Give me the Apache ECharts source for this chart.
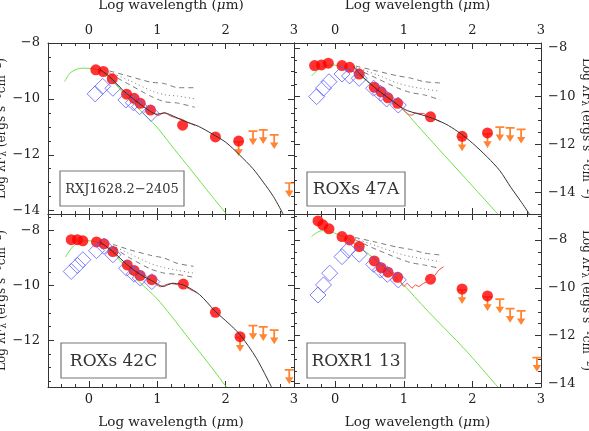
<!DOCTYPE html>
<html>
<head>
<meta charset="utf-8">
<script src="https://cdn.jsdelivr.net/npm/echarts@6.0.0/dist/echarts.min.js"></script>
<style>
html, body { margin: 0; padding: 0; background: #fff; }
#sed { width: 589px; height: 431px; }
</style>
</head>
<body>
<div id="sed"></div>
<script>
// --- ticks ---
const xTicks = [0, 1, 2, 3];
const xMinor = [-0.6, -0.4, -0.2, 0.2, 0.4, 0.6, 0.8, 1.2, 1.4, 1.6, 1.8, 2.2, 2.4, 2.6, 2.8];
const yTicksTop = [-14, -12, -10, -8];
const yTicksBL = [-12, -10, -8];
const yTicksBR = [-14, -12, -10, -8];

// --- RXJ1628.2-2405 (arriba izq) ---
const tlCircles = [[0.1, -8.96], [0.21, -9.02], [0.34, -9.28], [0.55, -9.83], [0.66, -9.98], [0.75, -10.16], [0.9, -10.4], [1.37, -10.94], [1.85, -11.36], [2.19, -11.51]];
const tlCircleLimits = [[2.19, -11.51]];
const tlLimits = [[2.40, -11.12], [2.55, -11.08], [2.71, -11.26], [2.93, -12.98]];
const tlDiamonds = [[0.09, -9.82], [0.2, -9.55], [0.35, -9.62], [0.54, -10.04], [0.65, -10.14], [0.74, -10.28], [0.91, -10.52]];
const tlPhot = [[-0.355, -9.38], [-0.28, -9.08], [-0.18, -8.94], [-0.086, -8.9], [0.05, -8.92], [0.16, -8.98], [0.3, -9.25], [0.55, -9.92], [0.75, -10.41], [0.99, -11.0], [1.2, -11.65], [1.43, -12.35], [1.7, -13.18], [2.01, -14.12]];
const tlModel = [[0.16, -8.95], [0.3, -9.2], [0.5, -9.7], [0.7, -10.1], [0.9, -10.45], [1.0, -10.55], [1.1, -10.5], [1.2, -10.58], [1.4, -10.8], [1.6, -10.98], [1.8, -11.25], [2.0, -11.55], [2.2, -12.0], [2.4, -12.5], [2.55, -12.98], [2.7, -13.5], [2.84, -14.12]];
const tlSpec = [[0.88, -10.42], [0.93, -10.47], [0.97, -10.55], [1.0, -10.6], [1.03, -10.58], [1.07, -10.52], [1.11, -10.5], [1.15, -10.55], [1.2, -10.62], [1.25, -10.66], [1.3, -10.7], [1.35, -10.72], [1.4, -10.78], [1.45, -10.85], [1.5, -10.9], [1.55, -10.95]];
const tlMedHigh = [[0.3, -9.0], [0.6, -9.2], [0.9, -9.4], [1.1, -9.45], [1.3, -9.6], [1.55, -9.6]];
const tlMedMid = [[0.3, -9.05], [0.6, -9.35], [0.9, -9.7], [1.1, -9.85], [1.3, -9.9], [1.55, -10.0]];
const tlMedLow = [[0.3, -9.1], [0.6, -9.5], [0.9, -9.9], [1.1, -10.1], [1.3, -10.15], [1.55, -10.3]];

// --- ROXs 47A (arriba der) ---
const trCircles = [[-0.3, -8.73], [-0.2, -8.7], [-0.1, -8.63], [0.1, -8.73], [0.21, -8.8], [0.35, -9.08], [0.57, -9.63], [0.67, -9.82], [0.77, -10.07], [0.91, -10.3], [1.39, -10.86], [1.85, -11.67], [2.22, -11.53]];
const trCircleLimits = [[1.85, -11.67], [2.22, -11.53]];
const trLimits = [[2.40, -11.25], [2.55, -11.28], [2.71, -11.35]];
const trDiamonds = [[-0.27, -10.02], [-0.17, -9.67], [-0.09, -9.4], [0.1, -9.08], [0.21, -9.16], [0.35, -9.26], [0.56, -9.67], [0.66, -9.88], [0.75, -10.12], [0.92, -10.37]];
const trPhot = [[-0.344, -9.16], [-0.25, -8.9], [-0.15, -8.74], [-0.05, -8.7], [0.05, -8.74], [0.15, -8.84], [0.31, -9.05], [0.5, -9.45], [0.7, -9.9], [0.95, -10.44], [1.2, -11.22], [1.5, -12.17], [1.9, -13.42], [2.37, -14.9]];
const trModel = [[0.27, -8.77], [0.35, -9.05], [0.57, -9.63], [0.77, -10.07], [0.95, -10.44], [1.05, -10.6], [1.19, -10.72], [1.35, -10.85], [1.49, -11.0], [1.65, -11.22], [1.83, -11.56], [2.0, -11.95], [2.22, -12.54], [2.4, -13.1], [2.56, -13.79], [2.7, -14.35], [2.83, -14.9]];
const trSpec = [[0.92, -10.35], [0.97, -10.5], [1.0, -10.6], [1.05, -10.72], [1.08, -10.78], [1.12, -10.79], [1.17, -10.7], [1.22, -10.72], [1.29, -10.72], [1.35, -10.82], [1.42, -10.9], [1.48, -11.0], [1.54, -11.07]];
const trMedHigh = [[0.3, -8.75], [0.6, -8.95], [0.9, -9.15], [1.1, -9.25], [1.3, -9.4], [1.53, -9.45]];
const trMedMid = [[0.3, -8.8], [0.6, -9.1], [0.9, -9.45], [1.1, -9.6], [1.3, -9.7], [1.53, -9.8]];
const trMedLow = [[0.3, -8.85], [0.6, -9.25], [0.9, -9.65], [1.1, -9.85], [1.3, -9.95], [1.53, -10.15]];

// --- ROXs 42C (abajo izq) ---
const blCircles = [[-0.26, -8.33], [-0.17, -8.33], [-0.09, -8.37], [0.11, -8.41], [0.22, -8.48], [0.35, -8.76], [0.56, -9.25], [0.66, -9.45], [0.75, -9.64], [0.92, -9.79], [1.38, -9.95], [1.85, -10.98], [2.21, -11.87]];
const blCircleLimits = [[2.21, -11.87]];
const blLimits = [[2.40, -11.44], [2.55, -11.48], [2.71, -11.6], [2.93, -13.05]];
const blDiamonds = [[-0.26, -9.49], [-0.17, -9.27], [-0.09, -9.06], [0.11, -8.73], [0.22, -8.57], [0.35, -8.88], [0.55, -9.37], [0.66, -9.59], [0.75, -9.73], [0.92, -9.86]];
const blPhot = [[-0.344, -8.96], [-0.25, -8.62], [-0.135, -8.4], [0.0, -8.37], [0.158, -8.45], [0.35, -8.8], [0.55, -9.37], [0.75, -9.9], [0.99, -10.47], [1.2, -11.1], [1.48, -12.0], [1.75, -12.85], [2.01, -13.71]];
const blModel = [[0.16, -8.41], [0.35, -8.76], [0.56, -9.25], [0.75, -9.6], [0.92, -9.83], [1.0, -9.95], [1.09, -10.04], [1.15, -9.98], [1.23, -9.92], [1.33, -9.95], [1.43, -10.04], [1.62, -10.34], [1.85, -10.95], [2.05, -11.4], [2.21, -11.8], [2.45, -12.66], [2.67, -13.71]];
const blSpec = [[0.9, -9.82], [0.95, -9.9], [1.0, -10.0], [1.05, -10.05], [1.1, -10.0], [1.15, -9.95], [1.2, -9.93], [1.25, -9.95], [1.3, -9.98], [1.35, -10.0], [1.4, -10.05], [1.45, -10.1], [1.5, -10.18], [1.55, -10.22], [1.58, -10.28]];
const blMedHigh = [[0.35, -8.5], [0.6, -8.7], [0.9, -8.9], [1.1, -9.0], [1.3, -9.2], [1.53, -9.3]];
const blMedMid = [[0.35, -8.55], [0.6, -8.85], [0.9, -9.2], [1.1, -9.35], [1.3, -9.45], [1.53, -9.55]];
const blMedLow = [[0.35, -8.6], [0.6, -9.0], [0.9, -9.4], [1.1, -9.55], [1.3, -9.6], [1.53, -9.7]];

// --- ROXR1 13 (abajo der) ---
const brCircles = [[-0.25, -7.21], [-0.18, -7.37], [-0.09, -7.54], [0.1, -7.86], [0.21, -8.0], [0.35, -8.28], [0.57, -8.88], [0.67, -9.16], [0.77, -9.35], [0.91, -9.56], [1.39, -9.64], [1.85, -10.05], [2.22, -10.34]];
const brCircleLimits = [[1.85, -10.05], [2.22, -10.34]];
const brLimits = [[2.40, -10.44], [2.55, -10.83], [2.71, -10.93], [2.94, -12.88]];
const brDiamonds = [[-0.25, -10.3], [-0.17, -9.88], [-0.08, -9.39], [0.1, -8.7], [0.19, -8.42], [0.35, -8.6], [0.56, -9.02], [0.66, -9.26], [0.76, -9.44], [0.92, -9.67]];
const brPhot = [[-0.344, -7.86], [-0.27, -7.7], [-0.2, -7.62], [-0.1, -7.64], [0.07, -7.8], [0.2, -7.98], [0.31, -8.21], [0.5, -8.62], [0.7, -9.1], [0.95, -9.74], [1.36, -11.0], [1.9, -12.6], [2.37, -14.14]];
const brSpec = [[0.92, -9.6], [0.96, -9.8], [1.0, -9.95], [1.05, -9.81], [1.12, -10.02], [1.17, -9.88], [1.22, -9.95], [1.29, -9.81], [1.36, -9.74], [1.44, -9.53], [1.51, -9.26], [1.58, -9.12]];
const brMedHigh = [[0.29, -7.9], [0.6, -8.1], [0.9, -8.3], [1.1, -8.4], [1.3, -8.55], [1.53, -8.63]];
const brMedMid = [[0.29, -7.95], [0.6, -8.25], [0.9, -8.55], [1.1, -8.7], [1.3, -8.8], [1.53, -8.91]];
const brMedLow = [[0.29, -8.0], [0.6, -8.4], [0.9, -8.75], [1.1, -8.95], [1.3, -9.05], [1.53, -9.19]];

const panelNames = ["RXJ1628.2\u22122405", "ROXs 47A", "ROXs 42C", "ROXR1 13"];

// --- paneles ---
const panels = [
    { circles: tlCircles, cLim: tlCircleLimits, lim: tlLimits, dia: tlDiamonds, phot: tlPhot, model: tlModel, spec: tlSpec, med: [tlMedHigh, tlMedMid, tlMedLow], yRange: [-14.12, -8], yTicks: yTicksTop },
    { circles: trCircles, cLim: trCircleLimits, lim: trLimits, dia: trDiamonds, phot: trPhot, model: trModel, spec: trSpec, med: [trMedHigh, trMedMid, trMedLow], yRange: [-14.9, -7.79], yTicks: yTicksTop },
    { circles: blCircles, cLim: blCircleLimits, lim: blLimits, dia: blDiamonds, phot: blPhot, model: blModel, spec: blSpec, med: [blMedHigh, blMedMid, blMedLow], yRange: [-13.71, -7.39], yTicks: yTicksBL },
    { circles: brCircles, cLim: brCircleLimits, lim: brLimits, dia: brDiamonds, phot: brPhot, model: null, spec: brSpec, med: [brMedHigh, brMedMid, brMedLow], yRange: [-14.14, -6.92], yTicks: yTicksBR }
];

const grids = [
    { left: 48, top: 43, width: 246, height: 171 },
    { left: 294, top: 43, width: 247, height: 171 },
    { left: 48, top: 214, width: 246, height: 173 },
    { left: 294, top: 214, width: 247, height: 173 }
];
const bottomRow = [false, false, true, true];
const leftCol = [true, false, true, false];

const fontFam = "DejaVu Serif";
const frame = "#333";
const minus = (v) => String(v).replace("-", "\u2212");

const xName = "Log wavelength ({i|\u03bc}m)";
const yName = "Log \u03bbF{s|\u03bb} (ergs s{p|\u22121}cm{p|\u22122})";
const nameStyle = {
    fontFamily: fontFam, fontSize: 13.5, color: "#222", lineHeight: 15,
    rich: {
        i: { fontFamily: fontFam, fontSize: 13.5, fontStyle: "italic", color: "#222" },
        s: { fontFamily: fontFam, fontSize: 8.5, lineHeight: 8, verticalAlign: "bottom", color: "#222" },
        p: { fontFamily: fontFam, fontSize: 8.5, lineHeight: 8, verticalAlign: "top", color: "#222" }
    }
};
const yNameStyle = Object.assign({}, nameStyle, { fontSize: 12, lineHeight: 14 });

function minorSteps(lo, hi, step) {
    const out = [];
    for (let v = Math.ceil(lo / step) * step; v <= hi + 1e-9; v += step) out.push(Math.round(v * 100) / 100);
    return out;
}

// T con flecha (limite superior)
const limitPath = "path://M0,0H9V1.7H0Z M3.6,0H5.4V9H3.6Z M0.3,8.3H8.7L4.5,15Z";

const xAxes = [];
const yAxes = [];
const series = [];

grids.forEach((gr, g) => {
    const p = panels[g];
    ["bottom", "top"].forEach((pos) => {
        const showLab = (pos === "bottom") === bottomRow[g];
        xAxes.push({
            gridIndex: g, type: "value", position: pos, min: -0.6, max: 3,
            axisLine: { show: true, onZero: false, lineStyle: { color: frame, width: 1 } },
            axisTick: { show: true, inside: true, length: 6, customValues: xTicks, lineStyle: { color: frame } },
            axisLabel: { show: showLab, customValues: xTicks, margin: 6, fontFamily: fontFam, fontSize: 13, color: "#222" },
            splitLine: { show: false },
            name: showLab ? xName : "", nameLocation: "middle", nameGap: pos === "top" ? 30 : 28,
            nameTextStyle: nameStyle
        });
        xAxes.push({
            gridIndex: g, type: "value", position: pos, min: -0.6, max: 3,
            axisLine: { show: false, onZero: false },
            axisTick: { show: true, inside: true, length: 3, customValues: xMinor, lineStyle: { color: frame } },
            axisLabel: { show: false }, splitLine: { show: false }
        });
    });
    const yMinor = minorSteps(p.yRange[0], p.yRange[1], 0.5).filter((v) => p.yTicks.indexOf(v) < 0);
    ["left", "right"].forEach((pos) => {
        const showLab = (pos === "left") === leftCol[g];
        yAxes.push({
            gridIndex: g, type: "value", position: pos, min: p.yRange[0], max: p.yRange[1],
            axisLine: { show: true, onZero: false, lineStyle: { color: frame, width: 1 } },
            axisTick: { show: true, inside: true, length: 6, customValues: p.yTicks, lineStyle: { color: frame } },
            axisLabel: { show: showLab, customValues: p.yTicks, margin: pos === "left" ? 8 : 7, fontFamily: fontFam, fontSize: 13, color: "#222", formatter: minus },
            splitLine: { show: false },
            name: showLab ? yName : "", nameLocation: "middle", nameGap: pos === "left" ? 31 : 35,
            nameRotate: pos === "left" ? 90 : -90,
            nameTextStyle: yNameStyle
        });
        yAxes.push({
            gridIndex: g, type: "value", position: pos, min: p.yRange[0], max: p.yRange[1],
            axisLine: { show: false, onZero: false },
            axisTick: { show: true, inside: true, length: 3, customValues: yMinor, lineStyle: { color: frame } },
            axisLabel: { show: false }, splitLine: { show: false }
        });
    });

    const ax = { xAxisIndex: g * 4, yAxisIndex: g * 4 };
    const line = (data, color, type, smooth, z) => Object.assign({
        type: "line", data: data, showSymbol: false, smooth: smooth, z: z,
        lineStyle: { color: color, width: 1, type: type }, clip: true
    }, ax);

    series.push(line(p.phot, "#6fe04a", "solid", 0.3, 2));
    p.med.forEach((m, k) => series.push(line(m, "#7a7a7a", k === 1 ? [1, 3] : [5, 4], 0.2, 2)));
    series.push(Object.assign({
        type: "scatter", data: p.lim, symbol: limitPath, symbolSize: [9, 15], symbolOffset: [0, "50%"],
        itemStyle: { color: "#ff6600" }, z: 3
    }, ax));
    series.push(Object.assign({
        type: "scatter", data: p.cLim, symbol: limitPath, symbolSize: [9, 15], symbolOffset: [0, "50%"],
        itemStyle: { color: "#ff6600" }, z: 3
    }, ax));
    series.push(Object.assign({
        type: "scatter", data: p.circles, symbol: "circle", symbolSize: 11,
        itemStyle: { color: "#ff0000" }, z: 4
    }, ax));
    series.push(Object.assign({
        type: "scatter", data: p.dia, symbol: "diamond", symbolSize: 16,
        itemStyle: { color: "rgba(0,0,0,0)", borderColor: "#5f5fff", borderWidth: 1 }, z: 5
    }, ax));
    series.push(line(p.spec, "#ff4a4a", "solid", false, 6));
    if (p.model) series.push(line(p.model, "#333333", "solid", 0.3, 7));
});

// --- recuadros con nombres ---
const boxes = [
    { x: 60, y: 171, w: 124, h: 35, fs: 13 },
    { x: 307, y: 172, w: 98, h: 34, fs: 17 },
    { x: 61, y: 343, w: 105, h: 35, fs: 17 },
    { x: 307, y: 343, w: 98, h: 35, fs: 17 }
];
const graphics = [];
boxes.forEach((b, i) => {
    graphics.push({ type: "rect", shape: { x: b.x, y: b.y, width: b.w, height: b.h }, style: { fill: "#fff", stroke: "#777", lineWidth: 1.2 }, z: 100 });
    graphics.push({ type: "text", x: b.x + b.w / 2, y: b.y + b.h / 2 + 1, style: { text: panelNames[i], fontFamily: fontFam, fontSize: b.fs, fill: "#333", align: "center", verticalAlign: "middle" }, z: 101 });
});

var myChart = echarts.init(document.getElementById("sed"));
myChart.setOption({
    animation: false,
    backgroundColor: "#fff",
    grid: grids.map((gr) => Object.assign({ show: false, containLabel: false, outerBoundsMode: "none" }, gr)),
    xAxis: xAxes,
    yAxis: yAxes,
    series: series.map((s) => Object.assign({ silent: true }, s)),
    graphic: { elements: graphics }
});
</script>
</body>
</html>
